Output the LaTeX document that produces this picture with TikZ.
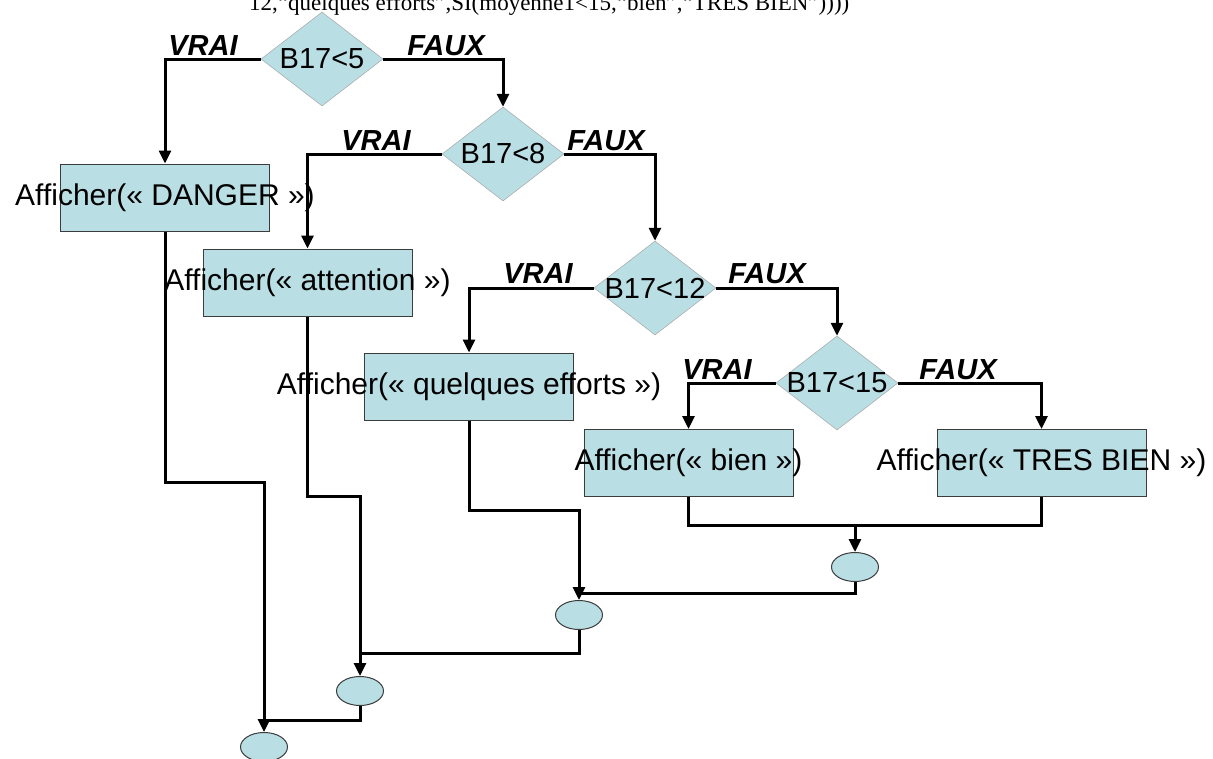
\documentclass[tikz,border=0pt]{standalone}
\usepackage{fontspec}
\usepackage{tikz}
\usetikzlibrary{arrows.meta,shapes.geometric}
\newfontfamily\flowfont{Liberation Sans}
\newfontfamily\formfont{Liberation Serif}
\newcommand{\fsz}[1]{\fontsize{#1pt}{#1pt}\selectfont}
\definecolor{boxfill}{HTML}{B9DEE4}
\definecolor{boxline}{HTML}{3C3C3C}
\tikzset{
  decision/.style={diamond, fill=boxfill, draw=black!35, line width=0.5pt, minimum width=122pt, minimum height=94pt, inner sep=0pt, label={[font=\flowfont\fsz{29}]center:#1}},
  action/.style={rectangle, fill=boxfill, draw=boxline, line width=1pt, minimum width=209pt, minimum height=67pt, inner sep=0pt, label={[font=\flowfont\fsz{30}]center:#1}},
  junction/.style={ellipse, fill=boxfill, draw=boxline, line width=1pt, minimum width=47pt, minimum height=29pt, inner sep=0pt},
  flow/.style={line width=3pt, -{Triangle[length=13pt,width=12pt]}},
  link/.style={line width=3pt},
  branch/.style={font=\flowfont\bfseries\itshape\fsz{29}, anchor=base, inner sep=0pt}
}
\begin{document}
\begin{tikzpicture}[x=1pt, y=-1pt]
\useasboundingbox (0,0) rectangle (1213,758);
% the formula line, cut at the top of the page
\node[font=\formfont\fsz{23}, anchor=base west, inner sep=0pt] (formula) at (249,10) {12,“quelques efforts”,SI(moyenne1<15,“bien”,“TRES BIEN”))))};
% tests
\node[decision={B17<5}] (d1) at (322,59) {};
\node[decision={B17<8}] (d2) at (503,154) {};
\node[decision={B17<12}] (d3) at (655,288) {};
\node[decision={B17<15}] (d4) at (837,383) {};
% outputs
\node[action={Afficher(« DANGER »)}] (danger) at (165,197.5) {};
\node[action={Afficher(« attention »)}] (attention) at (307.5,282.5) {};
\node[action={Afficher(« quelques efforts »)}] (efforts) at (469,386.5) {};
\node[action={Afficher(« bien »)}] (bien) at (688.5,463) {};
\node[action={Afficher(« TRES BIEN »)}] (tres) at (1041.5,463) {};
% merge points
\node[junction] (e1) at (855,567) {};
\node[junction] (e2) at (579,615) {};
\node[junction] (e3) at (360,691) {};
\node[junction] (e4) at (264,747) {};
% branch labels
\node[branch] (v1) at (203,55) {VRAI};
\node[branch] (f1) at (446,55) {FAUX};
\node[branch] (v2) at (376,150) {VRAI};
\node[branch] (f2) at (606,150) {FAUX};
\node[branch] (v3) at (538,283) {VRAI};
\node[branch] (f3) at (767,283) {FAUX};
\node[branch] (v4) at (717,379) {VRAI};
\node[branch] (f4) at (958,379) {FAUX};
% branches
\draw[flow] (d1.west) -| (danger.north);
\draw[flow] (d1.east) -| (d2.north);
\draw[flow] (d2.west) -| (attention.north);
\draw[flow] (d2.east) -| (d3.north);
\draw[flow] (d3.west) -| (efforts.north);
\draw[flow] (d3.east) -| (d4.north);
\draw[flow] (d4.west) -| (bien.north);
\draw[flow] (d4.east) -| (tres.north);
% merging
\coordinate (j1) at (855,525);
\coordinate (j2) at (579,510);
\coordinate (j2b) at (579,593);
\coordinate (j3) at (360,496);
\coordinate (j3b) at (360,653);
\coordinate (j4) at (264,482);
\coordinate (j4b) at (264,720);
\draw[link] (bien.south) |- (j1) -| (tres.south);
\draw[flow] (j1) -- (e1.north);
\draw[flow] (efforts.south) |- (j2) -- (e2.north);
\draw[link] (e1.south) |- (j2b);
\draw[flow] (attention.south) |- (j3) -- (e3.north);
\draw[link] (e2.south) |- (j3b);
\draw[flow] (danger.south) |- (j4) -- (e4.north);
\draw[link] (e3.south) |- (j4b);
\end{tikzpicture}
\end{document}
